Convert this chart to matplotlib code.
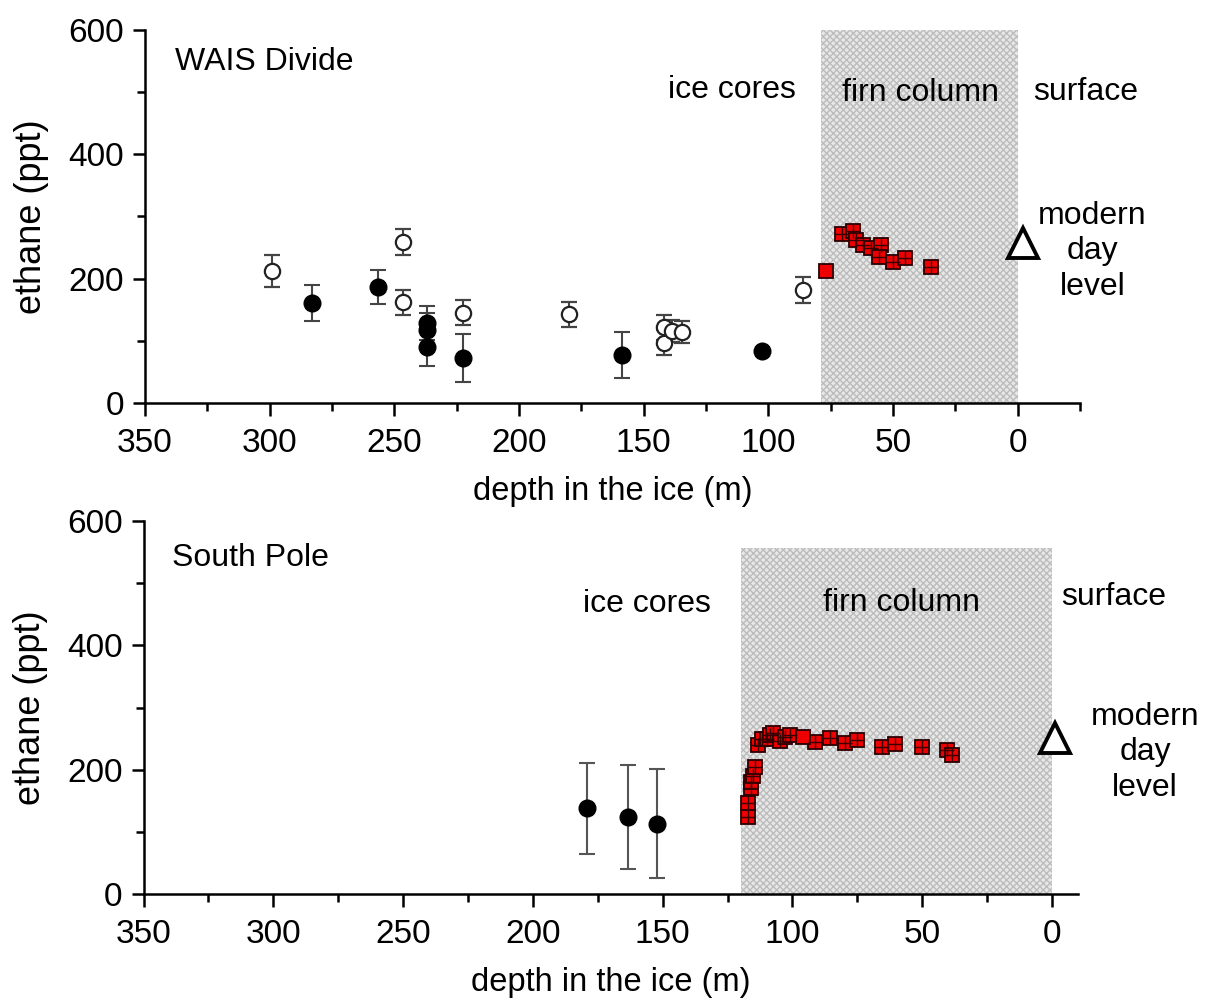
import matplotlib
matplotlib.use("Agg")
import matplotlib.pyplot as plt
from matplotlib.ticker import MultipleLocator

plt.rcParams['font.family'] = ['Liberation Sans', 'DejaVu Sans']
plt.rcParams['hatch.linewidth'] = 1.0

# ---------------- WAIS Divide data ----------------
wais_open_depth = [299, 246.7, 246.7, 222.6, 180, 141.8, 141.8, 138.5, 134.6, 86]
wais_open_val = [212, 259, 162, 145, 143, 122, 97, 116, 114, 182]
wais_open_err = [26, 21, 20, 20, 20, 20, 20, 18, 18, 21]

wais_fill_depth = [282.9, 256.4, 236.7, 236.7, 236.7, 222.6, 158.7, 102.4]
wais_fill_val = [161, 187, 129, 118, 90, 72, 77, 84]
wais_fill_err = [29, 27, 27, 27, 30, 39, 37, 0]

wais_firn_depth = [70.3, 66.2, 65, 62.2, 59, 55, 55.8, 50.2, 45, 34.9]
wais_firn_val = [272, 277, 262, 254, 249, 254, 235, 227, 233, 219]
wais_firn_plain_depth = [76.7]
wais_firn_plain_val = [212]

wais_modern_depth = [-2]
wais_modern_val = [258]

# ---------------- South Pole data ----------------
sp_fill_depth = [179.2, 163.3, 152.1]
sp_fill_val = [138, 124, 113]
sp_fill_err = [73, 84, 88]

sp_firn_depth = [117.0, 117.1, 116.1, 116.1, 115.1, 114.4, 113.4, 111.9, 110.0,
                 108.5, 107.4, 104.8, 103.0, 100.9, 91.3, 85.6, 79.8, 75.3,
                 65.6, 60.5, 50.2, 40.6, 38.7]
sp_firn_val = [124, 146, 170, 180, 190, 204, 240, 250, 250,
               255, 259, 246, 252, 256, 245, 251, 243, 247,
               237, 241, 237, 232, 224]
sp_firn_plain_depth = [95.8]
sp_firn_plain_val = [253]

sp_modern_depth = [-1.2]
sp_modern_val = [251]

xticks = [350, 300, 250, 200, 150, 100, 50, 0]
yticks = [0, 200, 400, 600]

fig = plt.figure(figsize=(12.05, 10.06), dpi=100)
ax1 = fig.add_axes([0.1203, 0.5994, 0.8963 - 0.1203, 0.9702 - 0.5994])
ax2 = fig.add_axes([0.1191, 0.1113, 0.8946 - 0.1191, 0.4821 - 0.1113])

FS_TICK = 24
FS_TEXT = 23


def style(ax, xmin):
    ax.set_xlim(350, xmin)
    ax.set_ylim(0, 600)
    ax.set_xticks(xticks)
    ax.set_yticks(yticks)
    ax.xaxis.set_minor_locator(MultipleLocator(25))
    ax.yaxis.set_minor_locator(MultipleLocator(100))
    for s in ['top', 'right']:
        ax.spines[s].set_visible(False)
    for s in ['left', 'bottom']:
        ax.spines[s].set_linewidth(1.8)
    ax.tick_params(which='major', direction='out', length=9, width=1.8,
                   labelsize=FS_TICK)
    ax.tick_params(axis='x', which='major', pad=9)
    ax.tick_params(axis='y', which='major', pad=6)
    ax.tick_params(which='minor', direction='out', length=6, width=1.8)
    ax.set_xlabel('depth in the ice (m)', fontsize=23.5, labelpad=12)
    ax.set_ylabel('ethane (ppt)', fontsize=26, labelpad=14)
    ax.patch.set_alpha(0)


def firn(ax, d, v):
    ax.plot(d, v, 's', ms=10.5, mfc='#ee0000', mec='#2a0000', mew=1.3, zorder=5)
    ax.plot(d, v, '+', ms=9.5, mec='#3a0000', mew=1.0, zorder=6)


# ---- top panel ----
ax1.axvspan(79, 0, ymin=0, ymax=1, facecolor='#e8e8e8', hatch='xxxxx',
            edgecolor='#bcbcbc', linewidth=0, zorder=0)
ax1.errorbar(wais_open_depth, wais_open_val, yerr=wais_open_err, fmt='o',
             ms=11, mfc='white', mec='#222222', mew=1.6, ecolor='#444444',
             elinewidth=1.5, capsize=5.5, capthick=1.5, zorder=3)
ax1.errorbar(wais_fill_depth, wais_fill_val, yerr=wais_fill_err, fmt='o',
             ms=12, mfc='black', mec='black', ecolor='#444444',
             elinewidth=1.5, capsize=5.5, capthick=1.5, zorder=4)
firn(ax1, wais_firn_depth, wais_firn_val)
ax1.plot(wais_firn_plain_depth, wais_firn_plain_val, 's', ms=10.5,
         mfc='#ee0000', mec='#2a0000', mew=1.3, zorder=5)
ax1.plot(wais_modern_depth, wais_modern_val, '^', ms=22, mfc='white',
         mec='black', mew=2.8, zorder=6, clip_on=False)
style(ax1, -25)

ax1.text(338, 548, 'WAIS Divide', fontsize=FS_TEXT, ha='left', va='center')
ax1.text(114.8, 503, 'ice cores', fontsize=FS_TEXT, ha='center', va='center')
ax1.text(39, 499, 'firn column', fontsize=FS_TEXT, ha='center', va='center')
ax1.text(-27.4, 500, 'surface', fontsize=FS_TEXT, ha='center', va='center',
         clip_on=False)
ax1.text(-30, 244, 'modern\nday\nlevel', fontsize=FS_TEXT, ha='center',
         va='center', linespacing=1.25, clip_on=False)

# ---- bottom panel ----
ax2.fill_between([120, 0], 0, 557, facecolor='#e8e8e8', hatch='xxxxx',
                 edgecolor='#bcbcbc', linewidth=0, zorder=0)
ax2.errorbar(sp_fill_depth, sp_fill_val, yerr=sp_fill_err, fmt='o',
             ms=12, mfc='black', mec='black', ecolor='#555555',
             elinewidth=1.5, capsize=5.8, capthick=1.5, zorder=4)
firn(ax2, sp_firn_depth, sp_firn_val)
ax2.plot(sp_firn_plain_depth, sp_firn_plain_val, 's', ms=10.5,
         mfc='#ee0000', mec='#2a0000', mew=1.3, zorder=5)
ax2.plot(sp_modern_depth, sp_modern_val, '^', ms=22, mfc='white',
         mec='black', mew=2.8, zorder=6, clip_on=False)
style(ax2, -10)

ax2.text(339, 540, 'South Pole', fontsize=FS_TEXT, ha='left', va='center')
ax2.text(156, 466, 'ice cores', fontsize=FS_TEXT, ha='center', va='center')
ax2.text(57.8, 468, 'firn column', fontsize=FS_TEXT, ha='center', va='center')
ax2.text(-23.8, 478, 'surface', fontsize=FS_TEXT, ha='center', va='center',
         clip_on=False)
ax2.text(-35.8, 228, 'modern\nday\nlevel', fontsize=FS_TEXT, ha='center',
         va='center', linespacing=1.25, clip_on=False)

fig.savefig('out.png', dpi=100)
